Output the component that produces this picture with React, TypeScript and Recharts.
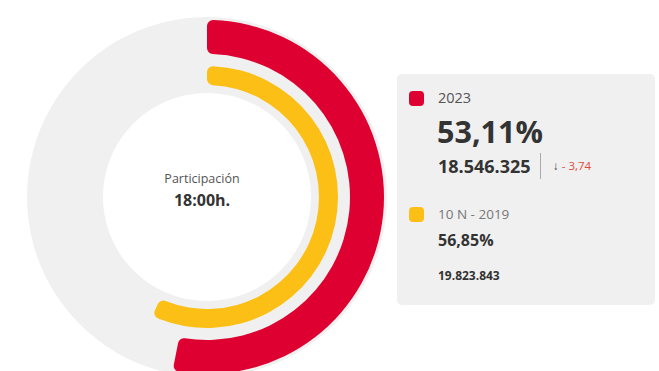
import { PieChart, Pie, Cell } from 'recharts';

const SERIES = ['2023', '10 N - 2019'];
const TURNOUT = [53.11, 56.85];
const TURNOUT_LABELS = ['53,11%', '56,85%'];
const VOTERS = ['18.546.325', '19.823.843'];
const CHANGE = '- 3,74';
const CENTER_TITLE = 'Participación';
const CENTER_TIME = '18:00h.';

const COLORS = ['#dd0031', '#fcbf15'];
const TRACK = '#f0f0f0';
const FONT = '"Open Sans", "Noto Sans", sans-serif';

const ring = (v: number) => [
  { name: 'value', value: v },
  { name: 'rest', value: 100 - v },
];

export default function App() {
  return (
    <div style={{ position: 'absolute', left: 0, top: 0, width: 659, height: 371, background: '#fff', fontFamily: FONT }}>
      <PieChart width={400} height={371} style={{ position: 'absolute', left: 0, top: 0 }}>
        <Pie
          data={[{ name: 'track', value: 1 }]}
          dataKey="value"
          cx={202}
          cy={192}
          innerRadius={104}
          outerRadius={180}
          startAngle={90}
          endAngle={-270}
          stroke="none"
          fill={TRACK}
          isAnimationActive={false}
        />
        <Pie
          data={ring(TURNOUT[0])}
          dataKey="value"
          cx={202}
          cy={192}
          innerRadius={143}
          outerRadius={177}
          startAngle={90}
          endAngle={-270}
          cornerRadius={6}
          stroke="none"
          isAnimationActive={false}
        >
          <Cell fill={COLORS[0]} />
          <Cell fill="transparent" />
        </Pie>
        <Pie
          data={ring(TURNOUT[1])}
          dataKey="value"
          cx={202}
          cy={192}
          innerRadius={112}
          outerRadius={131}
          startAngle={90}
          endAngle={-270}
          cornerRadius={6}
          stroke="none"
          isAnimationActive={false}
        >
          <Cell fill={COLORS[1]} />
          <Cell fill="transparent" />
        </Pie>
        <text x={202} y={183} textAnchor="middle" fontFamily={FONT} fontSize={12.5} fill="#555">
          {CENTER_TITLE}
        </text>
        <text x={202} y={206} textAnchor="middle" fontFamily={FONT} fontSize={16} fontWeight={700} fill="#333">
          {CENTER_TIME}
        </text>
      </PieChart>

      {/* legend panel */}
      <div
        style={{
          position: 'absolute',
          left: 397,
          top: 74,
          width: 258,
          height: 231,
          background: '#f0f0f0',
          borderRadius: 5,
        }}
      >
        <div style={{ position: 'absolute', left: 12, top: 17, width: 15, height: 15, borderRadius: 4, background: COLORS[0] }} />
        <div style={{ position: 'absolute', left: 41, top: 14, fontSize: 14.5, color: '#555', lineHeight: '20px' }}>{SERIES[0]}</div>
        <div style={{ position: 'absolute', left: 40, top: 37, fontSize: 30.5, fontWeight: 700, color: '#333', lineHeight: '40px' }}>
          {TURNOUT_LABELS[0]}
        </div>
        <div style={{ position: 'absolute', left: 41, top: 80, fontSize: 18, fontWeight: 700, color: '#333', lineHeight: '24px' }}>
          {VOTERS[0]}
        </div>
        <div style={{ position: 'absolute', left: 143, top: 79, width: 1, height: 26, background: '#aaa' }} />
        <div style={{ position: 'absolute', left: 156, top: 83, fontSize: 11.5, lineHeight: '18px', color: '#333' }}>
          <span style={{ fontWeight: 700 }}>↓</span> <span style={{ color: '#e04a3a' }}>{CHANGE}</span>
        </div>

        <div style={{ position: 'absolute', left: 12, top: 133, width: 15, height: 15, borderRadius: 4, background: COLORS[1] }} />
        <div style={{ position: 'absolute', left: 41, top: 131, fontSize: 13.5, color: '#777', lineHeight: '18px' }}>{SERIES[1]}</div>
        <div style={{ position: 'absolute', left: 41, top: 155, fontSize: 16, fontWeight: 700, color: '#333', lineHeight: '22px' }}>
          {TURNOUT_LABELS[1]}
        </div>
        <div style={{ position: 'absolute', left: 41, top: 194, fontSize: 12, fontWeight: 700, color: '#333', lineHeight: '16px' }}>
          {VOTERS[1]}
        </div>
      </div>
    </div>
  );
}
